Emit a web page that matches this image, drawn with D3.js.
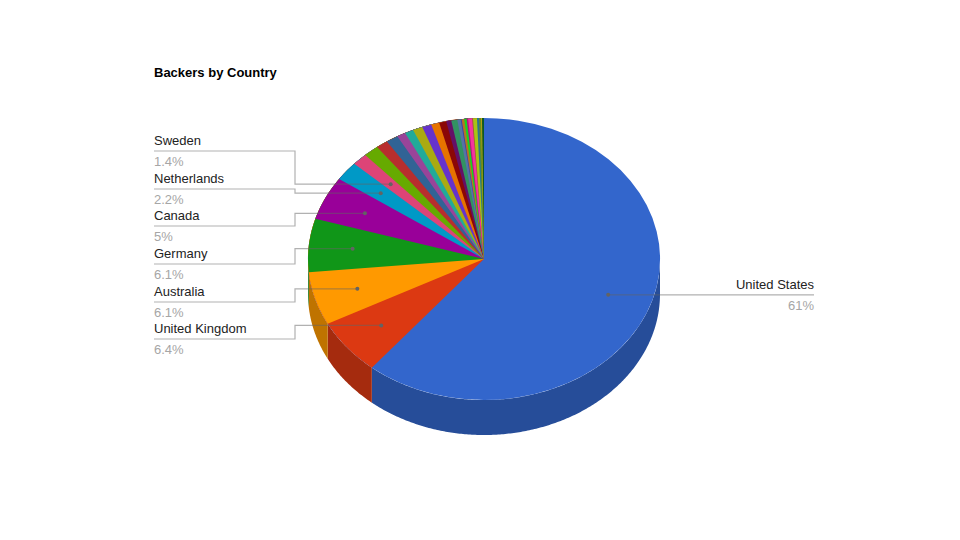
<!DOCTYPE html>
<html>
<head>
<meta charset="utf-8">
<script src="https://cdn.jsdelivr.net/npm/d3@7"></script>
<style>
  html, body { margin: 0; padding: 0; background: #fff; }
  text { font-family: "Liberation Sans", Arial, sans-serif; font-size: 13px; }
</style>
</head>
<body>
<svg id="chart" width="960" height="540"></svg>
<script>
// share of backers in percent, clockwise from 12 o'clock
const values = [61, 6.4, 6.1, 6.1, 5, 2.2, 1.4,
  1.4, 1.1, 1.1, 0.8, 0.8, 0.9, 0.85, 0.75, 0.65, 0.47, 0.55,
  0.31, 0.09, 0.23, 0.22, 0.14, 0.36, 0.08, 0.36, 0.19, 0.18, 0.09, 0.18];
const colors = ['#3366cc', '#dc3912', '#ff9900', '#109618', '#990099', '#0099c6', '#dd4477',
  '#66aa00', '#b82e2e', '#316395', '#994499', '#22aa99', '#aaaa11', '#6633cc', '#e67300', '#8b0707', '#651067', '#329262',
  '#5574a6', '#3b3eac', '#b77322', '#16d620', '#b91383', '#f4359e', '#9c5935', '#a9c413', '#2a778d', '#668d1c', '#bea413', '#0c5922'];
const countries = ['United States', 'United Kingdom', 'Australia', 'Germany', 'Canada', 'Netherlands', 'Sweden'];
const valueLabels = ['61%', '6.4%', '6.1%', '6.1%', '5%', '2.2%', '1.4%'];

const svg = d3.select('#chart');

const depth = 35;
const x = d3.scaleLinear().domain([-1, 1]).range([308, 660]);
const y = d3.scaleLinear().domain([-1, 1]).range([118, 400]);
const cx = x(0), cy = y(0);
const rx = x(1) - cx, ry = y(1) - cy;

const slices = d3.pie().sort(null).value(d => d)(values);

// point on the unit circle, angle clockwise from the top
const px = (a, r = 1) => x(Math.sin(a) * r);
const py = (a, r = 1) => y(-Math.cos(a) * r);

// side wall, only the front half of the ellipse shows it
const line = d3.line();
const walls = svg.append('g');
slices.forEach((s, i) => {
  const a0 = Math.max(s.startAngle, Math.PI / 2);
  const a1 = Math.min(s.endAngle, Math.PI * 1.5);
  if (a1 <= a0) return;
  const steps = d3.range(a0, a1, 0.01).concat(a1);
  const top = steps.map(a => [px(a), py(a)]);
  const bottom = steps.slice().reverse().map(a => [px(a), py(a) + depth]);
  const c = d3.rgb(colors[i]);
  walls.append('path')
    .attr('d', line(top.concat(bottom)) + 'Z')
    .attr('fill', d3.rgb(c.r * 0.75, c.g * 0.75, c.b * 0.75));
});

// top face, arc with radius ry stretched out to rx
// every slice runs on to the end and the next one paints over it, no seams that way
const arc = d3.arc().innerRadius(0).outerRadius(ry).endAngle(Math.PI * 2);
svg.append('g')
  .attr('transform', `translate(${cx},${cy}) scale(${rx / ry},1)`)
  .selectAll('path')
  .data(slices)
  .enter()
  .append('path')
  .attr('d', arc)
  .attr('fill', (d, i) => colors[i]);

// text block position of each label, left side runs from the bottom up
const underlineY = [295, 339, 302, 264, 226, 189, 151];
const elbowX = 295;
const labelLeft = 154;
const labelRight = 814;

const leaders = svg.append('g')
  .attr('fill', 'none')
  .attr('stroke', '#636363')
  .attr('stroke-opacity', 0.5)
  .attr('stroke-width', 1.2);
const labels = svg.append('g');

countries.forEach((name, i) => {
  const mid = (slices[i].startAngle + slices[i].endAngle) / 2;
  const dotX = px(mid, 0.75), dotY = py(mid, 0.75);
  const uy = underlineY[i];
  const onRight = mid < Math.PI;

  const pts = onRight
    ? [[dotX, dotY], [labelRight, dotY]]
    : [[dotX, dotY], [elbowX, dotY], [elbowX, uy], [labelLeft, uy]];
  leaders.append('path').attr('d', line(pts));

  svg.append('circle')
    .attr('cx', dotX).attr('cy', dotY).attr('r', 2)
    .attr('fill', '#636363');

  const tx = onRight ? labelRight : labelLeft;
  const anchor = onRight ? 'end' : 'start';
  labels.append('text')
    .attr('x', tx).attr('y', uy - 6)
    .attr('text-anchor', anchor)
    .attr('fill', '#222222')
    .text(name);
  labels.append('text')
    .attr('x', tx).attr('y', uy + 15)
    .attr('text-anchor', anchor)
    .attr('fill', '#a6a6a6')
    .text(valueLabels[i]);
});

svg.append('text')
  .attr('x', 154).attr('y', 77)
  .attr('font-weight', 'bold')
  .attr('fill', '#000')
  .text('Backers by Country');
</script>
</body>
</html>
